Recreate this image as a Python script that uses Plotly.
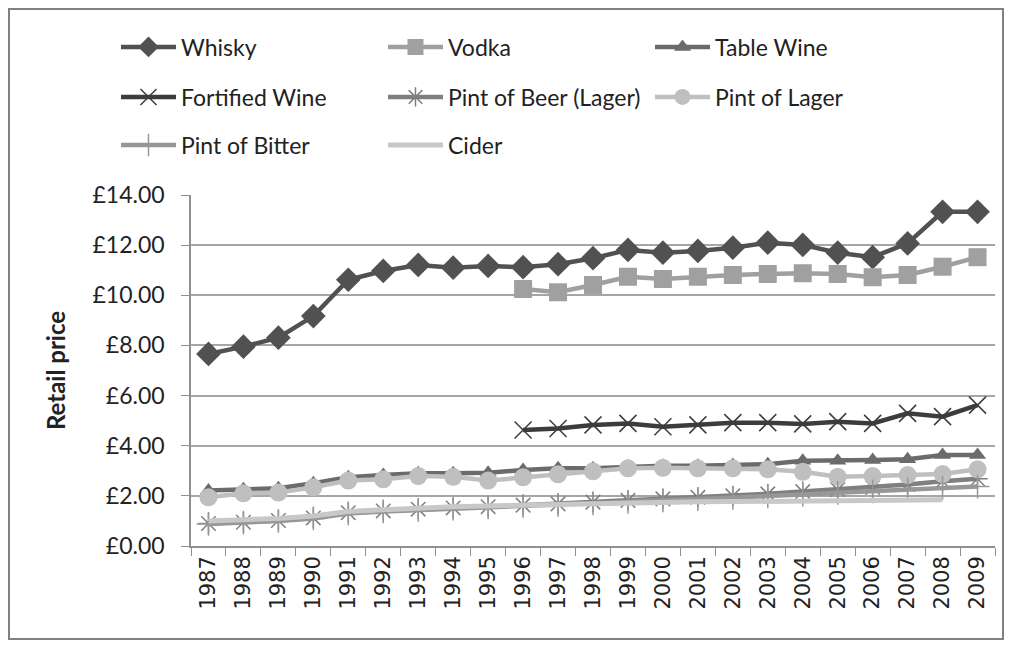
import plotly.graph_objects as go

years = [str(y) for y in range(1987, 2010)]

whisky = [7.66, 7.95, 8.31, 9.17, 10.62, 10.97, 11.21, 11.10, 11.17, 11.12, 11.24, 11.48,
          11.81, 11.70, 11.77, 11.90, 12.10, 12.01, 11.70, 11.52, 12.07, 13.33, 13.33]
vodka = [None] * 9 + [10.25, 10.12, 10.41, 10.74, 10.65, 10.74, 10.81, 10.85, 10.88,
                      10.85, 10.72, 10.81, 11.14, 11.52]
table_wine = [2.21, 2.26, 2.30, 2.50, 2.74, 2.83, 2.90, 2.90, 2.92, 3.03, 3.10, 3.10,
              3.17, 3.20, 3.20, 3.23, 3.26, 3.40, 3.40, 3.43, 3.46, 3.63, 3.63]
fortified = [None] * 9 + [4.63, 4.69, 4.83, 4.89, 4.76, 4.83, 4.92, 4.92, 4.87,
                          4.96, 4.89, 5.29, 5.16, 5.62]
beer_lager = [0.90, 0.95, 1.02, 1.12, 1.33, 1.40, 1.47, 1.52, 1.57, 1.63, 1.68, 1.75,
              1.82, 1.88, 1.94, 2.00, 2.08, 2.17, 2.25, 2.33, 2.45, 2.58, 2.68]
lager = [1.94, 2.10, 2.13, 2.34, 2.61, 2.66, 2.79, 2.76, 2.61, 2.74, 2.86, 2.98,
         3.10, 3.12, 3.10, 3.10, 3.06, 2.96, 2.76, 2.79, 2.83, 2.87, 3.06]
bitter = [0.88, 0.93, 1.00, 1.10, 1.30, 1.38, 1.44, 1.49, 1.54, 1.60, 1.64, 1.70,
          1.76, 1.82, 1.87, 1.92, 1.98, 2.05, 2.12, 2.18, 2.25, 2.32, 2.37]
cider = [1.00, 1.05, 1.10, 1.20, 1.38, 1.45, 1.52, 1.57, 1.60, 1.63, 1.66, 1.70,
         1.73, 1.75, 1.76, 1.77, 1.78, 1.80, 1.80, 1.80, 1.82, 1.84, None]

y_ticks = [0, 2, 4, 6, 8, 10, 12, 14]
y_tick_labels = ["\u00a3%.2f" % v for v in y_ticks]

series = [
    ("Whisky", whisky, "#515151", "diamond", 19, "legend"),
    ("Vodka", vodka, "#a0a0a0", "square", 18, "legend"),
    ("Table Wine", table_wine, "#6b6b6b", "triangle-up", 15, "legend"),
    ("Fortified Wine", fortified, "#3c3c3c", "x-thin-open", 17, "legend2"),
    ("Pint of Beer (Lager)", beer_lager, "#7f7f7f", "asterisk-open", 17, "legend2"),
    ("Pint of Lager", lager, "#bfbfbf", "circle", 18, "legend2"),
    ("Pint of Bitter", bitter, "#979797", "cross-thin-open", 17, "legend3"),
    ("Cider", cider, "#c8c8c8", None, 0, "legend3"),
]

fig = go.Figure()
for name, vals, color, sym, size, leg in series:
    if sym is None:
        fig.add_trace(go.Scatter(x=years, y=vals, name=name, mode="lines",
                                 line=dict(color=color, width=5), legend=leg))
    else:
        mk = dict(symbol=sym, size=size, color=color)
        if sym.endswith("open"):
            mk["line"] = dict(color=color, width=1.5)
        fig.add_trace(go.Scatter(x=years, y=vals, name=name, mode="lines+markers",
                                 line=dict(color=color, width=4.5), marker=mk,
                                 legend=leg, connectgaps=False))

# figure is placed at page offset (8, 8) by the body margin
W, H = 996, 632
L, R, T, B = 183, 9, 187, 94
PW, PH = W - L - R, H - T - B


def py(fy):
    return (H - B - fy) / PH


def px(fx):
    return (fx - L) / PW


font_leg = dict(family="Lato, Open Sans, sans-serif", size=23, color="#222222")
legcommon = dict(orientation="h", xanchor="left", yanchor="middle", x=px(108),
                 font=font_leg, entrywidth=197, entrywidthmode="pixels",
                 itemwidth=55, bgcolor="rgba(0,0,0,0)", traceorder="normal")

fig.update_layout(
    width=W, height=H,
    margin=dict(l=L, r=R, t=T, b=B),
    paper_bgcolor="white", plot_bgcolor="white",
    showlegend=True,
    legend=dict(**legcommon, y=py(39)),
    legend2=dict(**legcommon, y=py(89)),
    legend3=dict(**legcommon, y=py(137)),
    xaxis=dict(type="category", tickangle=-90, tickson="boundaries",
               range=[-0.5, len(years) - 0.5],
               ticks="outside", ticklen=8, tickcolor="#909090",
               showline=True, linecolor="#909090", linewidth=1.5,
               showgrid=False,
               tickfont=dict(family="DejaVu Sans, Verdana, sans-serif", size=21, color="#222222")),
    yaxis=dict(range=[0, 14], tickvals=y_ticks, ticktext=y_tick_labels,
               ticks="outside", ticklen=8, tickcolor="#909090",
               ticklabelstandoff=12,
               showline=True, linecolor="#909090", linewidth=1.5,
               showgrid=True, gridcolor="#a6a6a6", gridwidth=1.5, zeroline=False,
               tickfont=dict(family="Lato, Open Sans, sans-serif", size=23, color="#222222"),
               title=dict(text="<b>Retail price</b>", standoff=20,
                          font=dict(family="Lato, Open Sans, sans-serif", size=24, color="#222222"))),
    shapes=[dict(type="rect", xref="paper", yref="paper",
                 x0=px(1), x1=px(995), y0=py(631), y1=py(1),
                 line=dict(color="#808080", width=2), fillcolor="rgba(0,0,0,0)",
                 layer="below")],
)

fig.write_html("out.html")
